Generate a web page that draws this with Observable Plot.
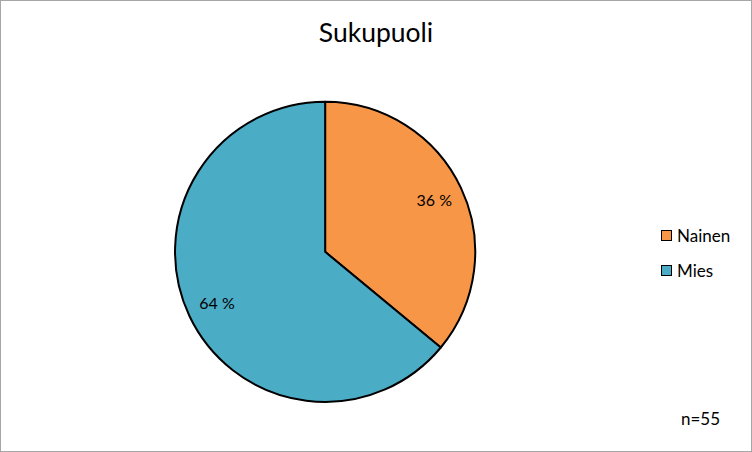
<!DOCTYPE html>
<html>
<head>
<meta charset="utf-8">
<script src="https://cdn.jsdelivr.net/npm/d3@7"></script>
<script src="https://cdn.jsdelivr.net/npm/@observablehq/plot@0.6"></script>
<style>
  html, body { margin: 0; padding: 0; background: #fff; }
  #chart { position: relative; width: 750px; height: 450px; border: 1px solid #a6a6a6; overflow: hidden; font-family: Lato, "Open Sans", sans-serif; color: #000; }
  #chart svg { position: absolute; left: -1px; top: -1px; }
  .title { position: absolute; left: 0; width: 750px; top: 15px; text-align: center; font-size: 26.5px; }
  .legend { position: absolute; left: 660px; top: 217px; font-size: 17px; }
  .legend .item { display: flex; align-items: center; height: 35px; }
  .legend .sw { width: 9px; height: 9px; border: 1px solid #000; margin-right: 5px; }
  .caption { position: absolute; left: 680px; top: 407px; font-size: 17px; }
</style>
</head>
<body>
<div id="chart"></div>
<script>
const categories = ["Nainen", "Mies"];
const percents = [36, 64];
const colors = ["#F79646", "#4BACC6"];
const titleText = "Sukupuoli";
const captionText = "n=55";

const W = 752, H = 452;
const cx = 326, cy = 252.5, R = 150.5; // layout
const data = categories.map((c, i) => ({category: c, value: percents[i]}));
const arcs = d3.pie().sort(null).value(d => d.value)(data);
const labelR = 0.8;
const labels = arcs.map(a => {
  const m = (a.startAngle + a.endAngle) / 2;
  return {category: a.data.category, text: `${a.data.value} %`, x: labelR * Math.sin(m), y: labelR * Math.cos(m)};
});

function pieMark(index, scales, values, dimensions, context) {
  const x0 = scales.x(0), y0 = scales.y(0);
  const r = scales.x(1) - scales.x(0);
  const arc = d3.arc().innerRadius(0).outerRadius(r);
  const g = d3.create("svg:g").attr("transform", `translate(${x0},${y0})`);
  g.selectAll("path").data(arcs).join("path")
    .attr("d", arc)
    .attr("fill", d => scales.color(d.data.category))
    .attr("stroke", "#000")
    .attr("stroke-width", 2)
    .attr("stroke-linejoin", "round");
  return g.node();
}

const plot = Plot.plot({
  width: W, height: H,
  margin: 0,
  x: {domain: [-cx / R, (W - cx) / R], axis: null},
  y: {domain: [-(H - cy) / R, cy / R], axis: null},
  color: {domain: categories, range: colors},
  style: {background: "transparent", fontFamily: "Lato, 'Open Sans', sans-serif"},
  marks: [
    pieMark,
    Plot.text(labels, {x: "x", y: "y", text: "text", fontSize: 16, fill: "#000"})
  ]
});

const chart = document.getElementById("chart");
chart.appendChild(plot);
const t = document.createElement("div"); t.className = "title"; t.textContent = titleText; chart.appendChild(t);
const lg = document.createElement("div"); lg.className = "legend";
categories.forEach((c, i) => {
  const it = document.createElement("div"); it.className = "item";
  const sw = document.createElement("div"); sw.className = "sw"; sw.style.background = colors[i];
  const lb = document.createElement("span"); lb.textContent = c;
  it.appendChild(sw); it.appendChild(lb); lg.appendChild(it);
});
chart.appendChild(lg);
const cap = document.createElement("div"); cap.className = "caption"; cap.textContent = captionText; chart.appendChild(cap);
</script>
</body>
</html>
